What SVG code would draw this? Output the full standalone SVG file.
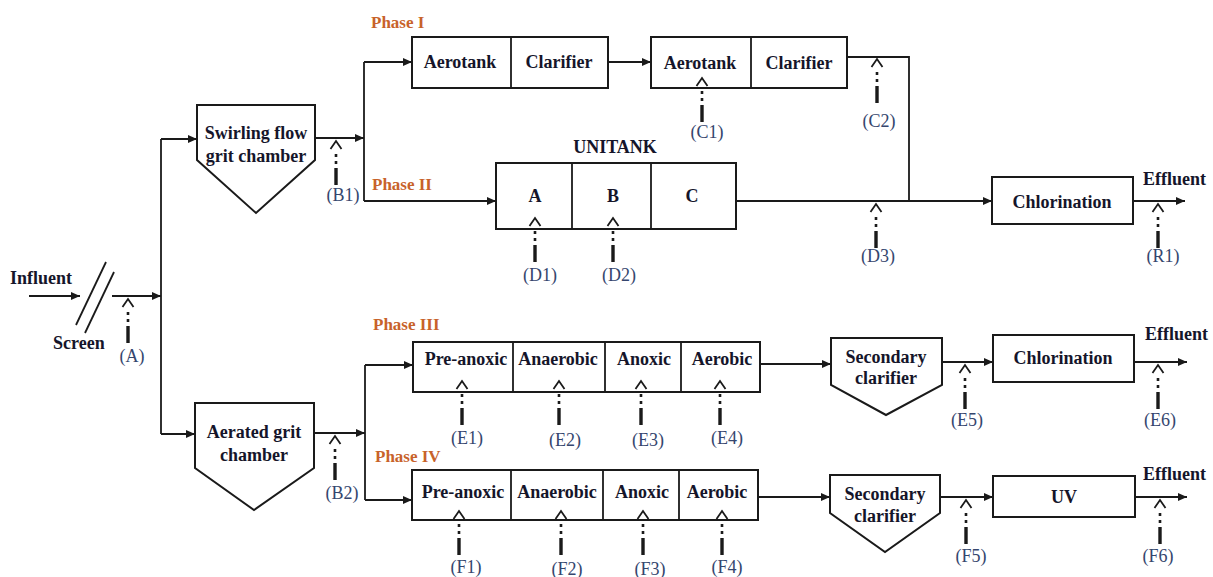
<svg xmlns="http://www.w3.org/2000/svg" width="1213" height="577" viewBox="0 0 1213 577">
<style>
.bx{fill:#fff;stroke:#1a1a1a;stroke-width:2}
.ln{fill:none;stroke:#1a1a1a;stroke-width:1.8}
.t{font-family:"Liberation Serif","Times New Roman",serif;font-weight:bold;font-size:18px;fill:#15152a;text-anchor:middle}
.tl{font-family:"Liberation Serif","Times New Roman",serif;font-weight:bold;font-size:18px;fill:#15152a}
.ph{font-family:"Liberation Serif","Times New Roman",serif;font-weight:bold;font-size:17px;fill:#c8622a}
.lb{font-family:"Liberation Serif","Times New Roman",serif;font-size:18px;fill:#35466e;text-anchor:middle}
</style>
<defs>
<marker id="ar" markerUnits="userSpaceOnUse" markerWidth="10" markerHeight="8" refX="9" refY="4" orient="auto">
<path d="M0,0 L9,4 L0,8 z" fill="#1a1a1a"/>
</marker>
<g id="probe">
<polyline points="-5.5,9 0,1 5.5,9" fill="none" stroke="#1a1a1a" stroke-width="1.8"/>
<rect x="-1.3" y="14" width="2.6" height="3" fill="#1a1a1a"/>
<rect x="-1.3" y="21" width="2.6" height="3" fill="#1a1a1a"/>
<rect x="-1.7" y="28" width="3.4" height="17" fill="#1a1a1a"/>
</g>
</defs>
<rect width="1213" height="577" fill="#fff"/>

<g id="connectors">
<line class="ln" x1="29" y1="296" x2="80" y2="296" marker-end="url(#ar)"/>
<line class="ln" x1="112" y1="296" x2="161" y2="296" marker-end="url(#ar)"/>
<line class="ln" x1="161" y1="139" x2="161" y2="434"/>
<line class="ln" x1="161" y1="139" x2="197" y2="139" marker-end="url(#ar)"/>
<line class="ln" x1="161" y1="434" x2="195" y2="434" marker-end="url(#ar)"/>
<line class="ln" x1="315" y1="138" x2="364" y2="138" marker-end="url(#ar)"/>
<line class="ln" x1="364" y1="62" x2="364" y2="201"/>
<line class="ln" x1="364" y1="62" x2="412" y2="62" marker-end="url(#ar)"/>
<line class="ln" x1="364" y1="201" x2="496" y2="201" marker-end="url(#ar)"/>
<line class="ln" x1="608" y1="62" x2="651" y2="62" marker-end="url(#ar)"/>
<polyline class="ln" points="847,57 909,57 909,201"/>
<line class="ln" x1="736" y1="201" x2="992" y2="201" marker-end="url(#ar)"/>
<line class="ln" x1="1133" y1="201" x2="1185" y2="201" marker-end="url(#ar)"/>
<line class="ln" x1="314" y1="433" x2="365" y2="433" marker-end="url(#ar)"/>
<line class="ln" x1="365" y1="365" x2="365" y2="500"/>
<line class="ln" x1="365" y1="365" x2="413" y2="365" marker-end="url(#ar)"/>
<line class="ln" x1="365" y1="500" x2="412" y2="500" marker-end="url(#ar)"/>
<line class="ln" x1="760" y1="364" x2="831" y2="364" marker-end="url(#ar)"/>
<line class="ln" x1="942" y1="362" x2="993" y2="362" marker-end="url(#ar)"/>
<line class="ln" x1="1134" y1="362" x2="1187" y2="362" marker-end="url(#ar)"/>
<line class="ln" x1="758" y1="497" x2="830" y2="497" marker-end="url(#ar)"/>
<line class="ln" x1="940" y1="497" x2="993" y2="497" marker-end="url(#ar)"/>
<line class="ln" x1="1135" y1="497" x2="1187" y2="497" marker-end="url(#ar)"/>
</g>

<g id="influent"><text class="tl" x="10" y="284">Influent</text></g>
<g id="screen">
<line class="ln" x1="76" y1="325" x2="106" y2="262"/>
<line class="ln" x1="85" y1="333" x2="114" y2="272"/>
<text class="tl" x="53" y="349">Screen</text>
</g>

<g id="swirling">
<polygon class="bx" points="197,105 315,105 315,160 256,213 197,160"/>
<text class="t" x="256" y="139">Swirling flow</text>
<text class="t" x="256" y="162">grit chamber</text>
</g>
<g id="aerated">
<polygon class="bx" points="195,403 314,403 314,468 254,510 195,468"/>
<text class="t" x="254" y="438">Aerated grit</text>
<text class="t" x="254" y="461">chamber</text>
</g>

<g id="phase1">
<text class="ph" x="371" y="28">Phase I</text>
<rect class="bx" x="412" y="37" width="196" height="51"/>
<line class="ln" x1="511" y1="37" x2="511" y2="88"/>
<text class="t" x="460" y="68">Aerotank</text>
<text class="t" x="559" y="68">Clarifier</text>
<rect class="bx" x="651" y="37" width="196" height="51"/>
<line class="ln" x1="751" y1="37" x2="751" y2="88"/>
<text class="t" x="700" y="69">Aerotank</text>
<text class="t" x="799" y="69">Clarifier</text>
</g>

<g id="phase2">
<text class="ph" x="372" y="190">Phase II</text>
<text class="t" x="615" y="153">UNITANK</text>
<rect class="bx" x="496" y="163" width="240" height="66"/>
<line class="ln" x1="572" y1="163" x2="572" y2="229"/>
<line class="ln" x1="651" y1="163" x2="651" y2="229"/>
<text class="t" x="535" y="202">A</text>
<text class="t" x="613" y="202">B</text>
<text class="t" x="692" y="202">C</text>
</g>

<g id="chlorination1">
<rect class="bx" x="992" y="177" width="141" height="47"/>
<text class="t" x="1062" y="208">Chlorination</text>
<text class="tl" x="1143" y="185">Effluent</text>
</g>

<g id="phase3">
<text class="ph" x="373" y="330">Phase III</text>
<rect class="bx" x="413" y="342" width="347" height="50"/>
<line class="ln" x1="513" y1="342" x2="513" y2="392"/>
<line class="ln" x1="605" y1="342" x2="605" y2="392"/>
<line class="ln" x1="681" y1="342" x2="681" y2="392"/>
<text class="t" x="466" y="365">Pre-anoxic</text>
<text class="t" x="558" y="365">Anaerobic</text>
<text class="t" x="644" y="365">Anoxic</text>
<text class="t" x="722" y="365">Aerobic</text>
</g>
<g id="clarifier3">
<polygon class="bx" points="831,338 942,338 942,385 886,415 831,385"/>
<text class="t" x="886" y="363">Secondary</text>
<text class="t" x="886" y="384">clarifier</text>
</g>
<g id="chlorination3">
<rect class="bx" x="993" y="335" width="141" height="47"/>
<text class="t" x="1063" y="364">Chlorination</text>
<text class="tl" x="1145" y="340">Effluent</text>
</g>

<g id="phase4">
<text class="ph" x="375" y="462">Phase IV</text>
<rect class="bx" x="412" y="470" width="346" height="50"/>
<line class="ln" x1="511" y1="470" x2="511" y2="520"/>
<line class="ln" x1="603" y1="470" x2="603" y2="520"/>
<line class="ln" x1="679" y1="470" x2="679" y2="520"/>
<text class="t" x="463" y="498">Pre-anoxic</text>
<text class="t" x="557" y="498">Anaerobic</text>
<text class="t" x="642" y="498">Anoxic</text>
<text class="t" x="717" y="498">Aerobic</text>
</g>
<g id="clarifier4">
<polygon class="bx" points="830,475 940,475 940,513 885,552 830,513"/>
<text class="t" x="885" y="500">Secondary</text>
<text class="t" x="885" y="522">clarifier</text>
</g>
<g id="uv">
<rect class="bx" x="993" y="476" width="142" height="41"/>
<text class="t" x="1064" y="503">UV</text>
<text class="tl" x="1143" y="480">Effluent</text>
</g>

<g id="samples">
<use href="#probe" x="128" y="298"/><text class="lb" x="132" y="362">(A)</text>
<use href="#probe" x="336" y="140"/><text class="lb" x="343" y="201">(B1)</text>
<use href="#probe" x="335" y="435"/><text class="lb" x="342" y="499">(B2)</text>
<use href="#probe" x="702" y="77"/><text class="lb" x="707" y="138">(C1)</text>
<use href="#probe" x="877" y="58"/><text class="lb" x="879" y="127">(C2)</text>
<use href="#probe" x="535" y="217"/><text class="lb" x="540" y="281">(D1)</text>
<use href="#probe" x="613" y="217"/><text class="lb" x="619" y="281">(D2)</text>
<use href="#probe" x="876" y="203"/><text class="lb" x="878" y="262">(D3)</text>
<use href="#probe" x="1158" y="203"/><text class="lb" x="1163" y="262">(R1)</text>
<use href="#probe" x="462" y="380"/><text class="lb" x="467" y="444">(E1)</text>
<use href="#probe" x="559" y="380"/><text class="lb" x="565" y="446">(E2)</text>
<use href="#probe" x="641" y="380"/><text class="lb" x="648" y="446">(E3)</text>
<use href="#probe" x="720" y="380"/><text class="lb" x="727" y="444">(E4)</text>
<use href="#probe" x="965" y="364"/><text class="lb" x="967" y="426">(E5)</text>
<use href="#probe" x="1158" y="364"/><text class="lb" x="1160" y="426">(E6)</text>
<use href="#probe" x="459" y="510"/><text class="lb" x="466" y="573">(F1)</text>
<use href="#probe" x="561" y="510"/><text class="lb" x="567" y="575">(F2)</text>
<use href="#probe" x="643" y="510"/><text class="lb" x="650" y="575">(F3)</text>
<use href="#probe" x="722" y="510"/><text class="lb" x="727" y="573">(F4)</text>
<use href="#probe" x="966" y="499"/><text class="lb" x="971" y="562">(F5)</text>
<use href="#probe" x="1160" y="499"/><text class="lb" x="1158" y="562">(F6)</text>
</g>
</svg>
